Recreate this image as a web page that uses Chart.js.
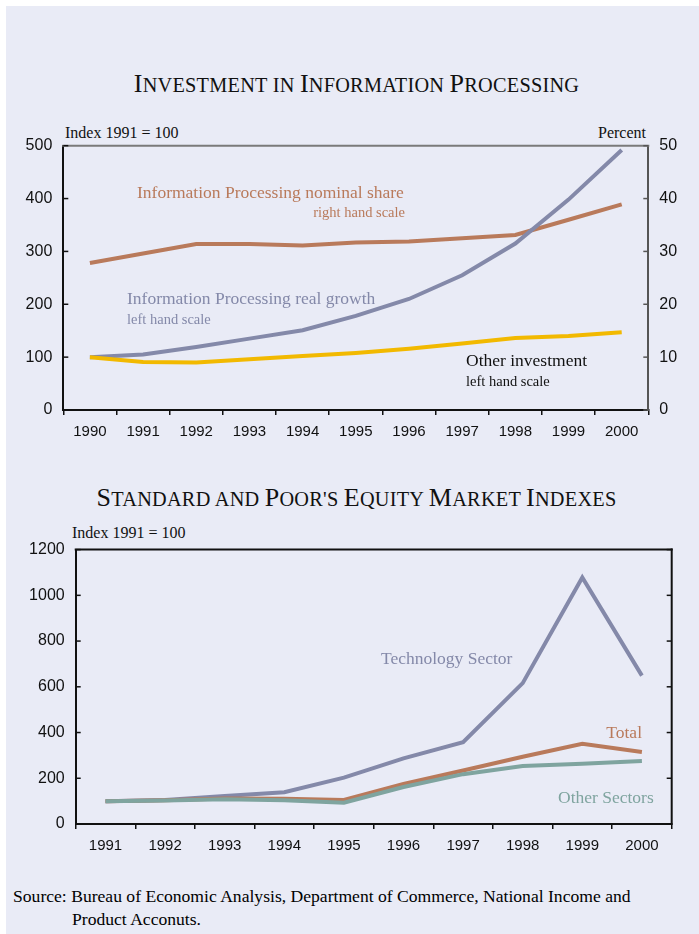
<!DOCTYPE html>
<html>
<head>
<meta charset="utf-8">
<script src="https://cdn.jsdelivr.net/npm/chart.js@4/dist/chart.umd.min.js"></script>
<style>
  html, body { margin: 0; padding: 0; background: #fff; }
  #page { position: absolute; left: 6px; top: 6px; width: 693px; height: 928px; background: #e9ebf6; }
  .abs { position: absolute; white-space: nowrap; line-height: 1; font-family: "Liberation Serif", "Times New Roman", serif; }
  .title { font-size: 20.3px; text-transform: uppercase; letter-spacing: 0.25px; width: 699px; text-align: center; color: #111; }
  .title b { font-weight: normal; font-size: 26px; }
  .unit { font-size: 16px; color: #111; }
  .ann { font-size: 17.5px; }
  .sub { font-size: 14.5px; }
  canvas { position: absolute; left: 0; }
</style>
</head>
<body>
<div id="page"></div>

<div class="abs title" style="left:7px; top:71.2px;"><b>I</b>nvestment in <b>I</b>nformation <b>P</b>rocessing</div>
<div class="abs unit" style="left:65px; top:124.5px;">Index 1991 = 100</div>
<div class="abs unit" style="right:53px; top:124.5px;">Percent</div>

<canvas id="investChart" style="top:120px;" width="699" height="340"></canvas>

<div class="abs ann" style="left:137px; top:183.6px; color:#b97a5b;">Information Processing nominal share</div>
<div class="abs sub" style="right:294px; top:205.2px; color:#b97a5b;">right hand scale</div>
<div class="abs ann" style="left:127px; top:290.3px; color:#8489a9;">Information Processing real growth</div>
<div class="abs sub" style="left:127px; top:312.2px; color:#8489a9;">left hand scale</div>
<div class="abs ann" style="left:466px; top:352px; color:#111;">Other investment</div>
<div class="abs sub" style="left:466px; top:373.9px; color:#111;">left hand scale</div>

<div class="abs title" style="left:7px; top:484.9px;"><b>S</b>tandard and <b>P</b>oor's <b>E</b>quity <b>M</b>arket <b>I</b>ndexes</div>
<div class="abs unit" style="left:72px; top:525.2px;">Index 1991 = 100</div>

<canvas id="equityChart" style="top:529px;" width="699" height="331"></canvas>

<div class="abs ann" style="left:381px; top:650.3px; color:#8489a9;">Technology Sector</div>
<div class="abs ann" style="right:57px; top:724.3px; color:#b97a5b;">Total</div>
<div class="abs ann" style="left:558px; top:789.3px; color:#7fa49f;">Other Sectors</div>

<div class="abs" style="left:13px; top:885px; font-size:17.6px; line-height:23px;">Source: Bureau of Economic Analysis, Department of Commerce, National Income and</div>
<div class="abs" style="left:72px; top:908px; font-size:17.6px; line-height:23px;">Product Acconuts.</div>

<script>
// Investment in information processing, 1990-2000
const investYears = ["1990", "1991", "1992", "1993", "1994", "1995", "1996", "1997", "1998", "1999", "2000"];
const nominalShare = [27.8, 29.6, 31.4, 31.4, 31.1, 31.7, 31.9, 32.5, 33.1, 36.0, 38.9];   // percent, right scale
const realGrowth = [100, 105, 119, 135, 151, 178, 210, 255, 315, 398, 492];              // index, left scale
const otherInvestment = [100, 91, 90, 96, 102, 108, 116, 126, 136, 140, 147];           // index, left scale

// S&P equity market indexes, 1991-2000
const equityYears = ["1991", "1992", "1993", "1994", "1995", "1996", "1997", "1998", "1999", "2000"];
const techSector = [100, 105, 122, 139, 203, 287, 358, 616, 1078, 649];
const totalIndex = [100, 104, 112, 110, 105, 175, 234, 294, 351, 315];
const otherSectors = [100, 103, 108, 104, 93, 162, 218, 254, 264, 275];

const BROWN = "#b97a5b";
const SLATE = "#8489a9";
const GOLD = "#f2b900";
const TEAL = "#7fa49f";

const sans = "'Liberation Sans', Arial, sans-serif";

// Draws the frame lines not covered by axes and the small inward ticks on the value axes
const frameTicks = {
  id: "frameTicks",
  afterDatasetsDraw(chart, args, opts) {
    const { ctx, chartArea } = chart;
    ctx.save();
    ctx.lineWidth = 2;
    ctx.strokeStyle = opts.topColor;
    ctx.beginPath();
    ctx.moveTo(chartArea.left - 1, chartArea.top);
    ctx.lineTo(chartArea.right + 1, chartArea.top);
    ctx.stroke();
    if (opts.rightBorder) {
      ctx.strokeStyle = opts.rightBorder;
      ctx.beginPath();
      ctx.moveTo(chartArea.right, chartArea.top - 1);
      ctx.lineTo(chartArea.right, chartArea.bottom + 1);
      ctx.stroke();
    }

    ctx.lineWidth = 1.5;
    (opts.sides || []).forEach((side) => {
      const scale = chart.scales[side.scale];
      ctx.strokeStyle = side.color;
      scale.ticks.forEach((t) => {
        const y = scale.getPixelForValue(t.value);
        const x0 = side.right ? chartArea.right : chartArea.left;
        const x1 = side.right ? x0 - 5 : x0 + 5;
        ctx.beginPath();
        ctx.moveTo(x0, y);
        ctx.lineTo(x1, y);
        ctx.stroke();
      });
    });
    ctx.restore();
  },
};

function line(data, color, axis, order) {
  return {
    data: data,
    borderColor: color,
    borderWidth: 4,
    pointRadius: 0,
    tension: 0,
    fill: false,
    yAxisID: axis,
    order: order,
  };
}

function xAxis(height) {
  return {
    type: "category",
    offset: true,
    grid: { display: true, offset: true, drawOnChartArea: false, drawTicks: true, tickLength: 5, color: "#111", lineWidth: 1.5 },
    border: { display: true, color: "#111", width: 2 },
    ticks: { font: { family: sans, size: 15 }, color: "#111", padding: 8, maxRotation: 0, autoSkip: false },
    afterFit: (s) => { s.height = height; },
  };
}

function yAxis(pos, min, max, step, width, borderColor) {
  return {
    type: "linear",
    position: pos,
    min: min,
    max: max,
    grid: { display: true, drawOnChartArea: false, drawTicks: false },
    border: { display: true, color: borderColor, width: 2 },
    ticks: { stepSize: step, font: { family: sans, size: 16 }, color: "#111", padding: 11, callback: (v) => String(v) },
    afterFit: (s) => { s.width = width; },
  };
}

Chart.defaults.animation = false;

const investChart = new Chart(document.getElementById("investChart").getContext("2d"), {
  type: "line",
  data: {
    labels: investYears,
    datasets: [
      line(nominalShare, BROWN, "y1", 3),
      line(realGrowth, SLATE, "y", 2),
      line(otherInvestment, GOLD, "y", 1),
    ],
  },
  options: {
    responsive: false,
    layout: { padding: { top: 25.7, left: 0, right: 0, bottom: 0 } },
    plugins: {
      legend: { display: false },
      tooltip: { enabled: false },
      frameTicks: {
        topColor: "#7a7a7a",
        sides: [{ scale: "y", color: "#111" }, { scale: "y1", color: "#555", right: true }],
      },
    },
    scales: {
      x: xAxis(50),
      y: yAxis("left", 0, 500, 100, 63.3, "#111"),
      y1: yAxis("right", 0, 50, 10, 50.7, "#555"),
    },
  },
  plugins: [frameTicks],
});

const equityChart = new Chart(document.getElementById("equityChart").getContext("2d"), {
  type: "line",
  data: {
    labels: equityYears,
    datasets: [
      line(techSector, SLATE, "y", 3),
      line(totalIndex, BROWN, "y", 2),
      line(otherSectors, TEAL, "y", 1),
    ],
  },
  options: {
    responsive: false,
    layout: { padding: { top: 17, left: 0, right: 27.3, bottom: 0 } },
    plugins: {
      legend: { display: false },
      tooltip: { enabled: false },
      frameTicks: {
        topColor: "#111",
        rightBorder: "#111",
        sides: [{ scale: "y", color: "#111" }, { scale: "y", color: "#111", right: true }],
      },
    },
    scales: {
      x: xAxis(36),
      y: yAxis("left", 0, 1200, 200, 75.7, "#111"),
    },
  },
  plugins: [frameTicks],
});
</script>
</body>
</html>
